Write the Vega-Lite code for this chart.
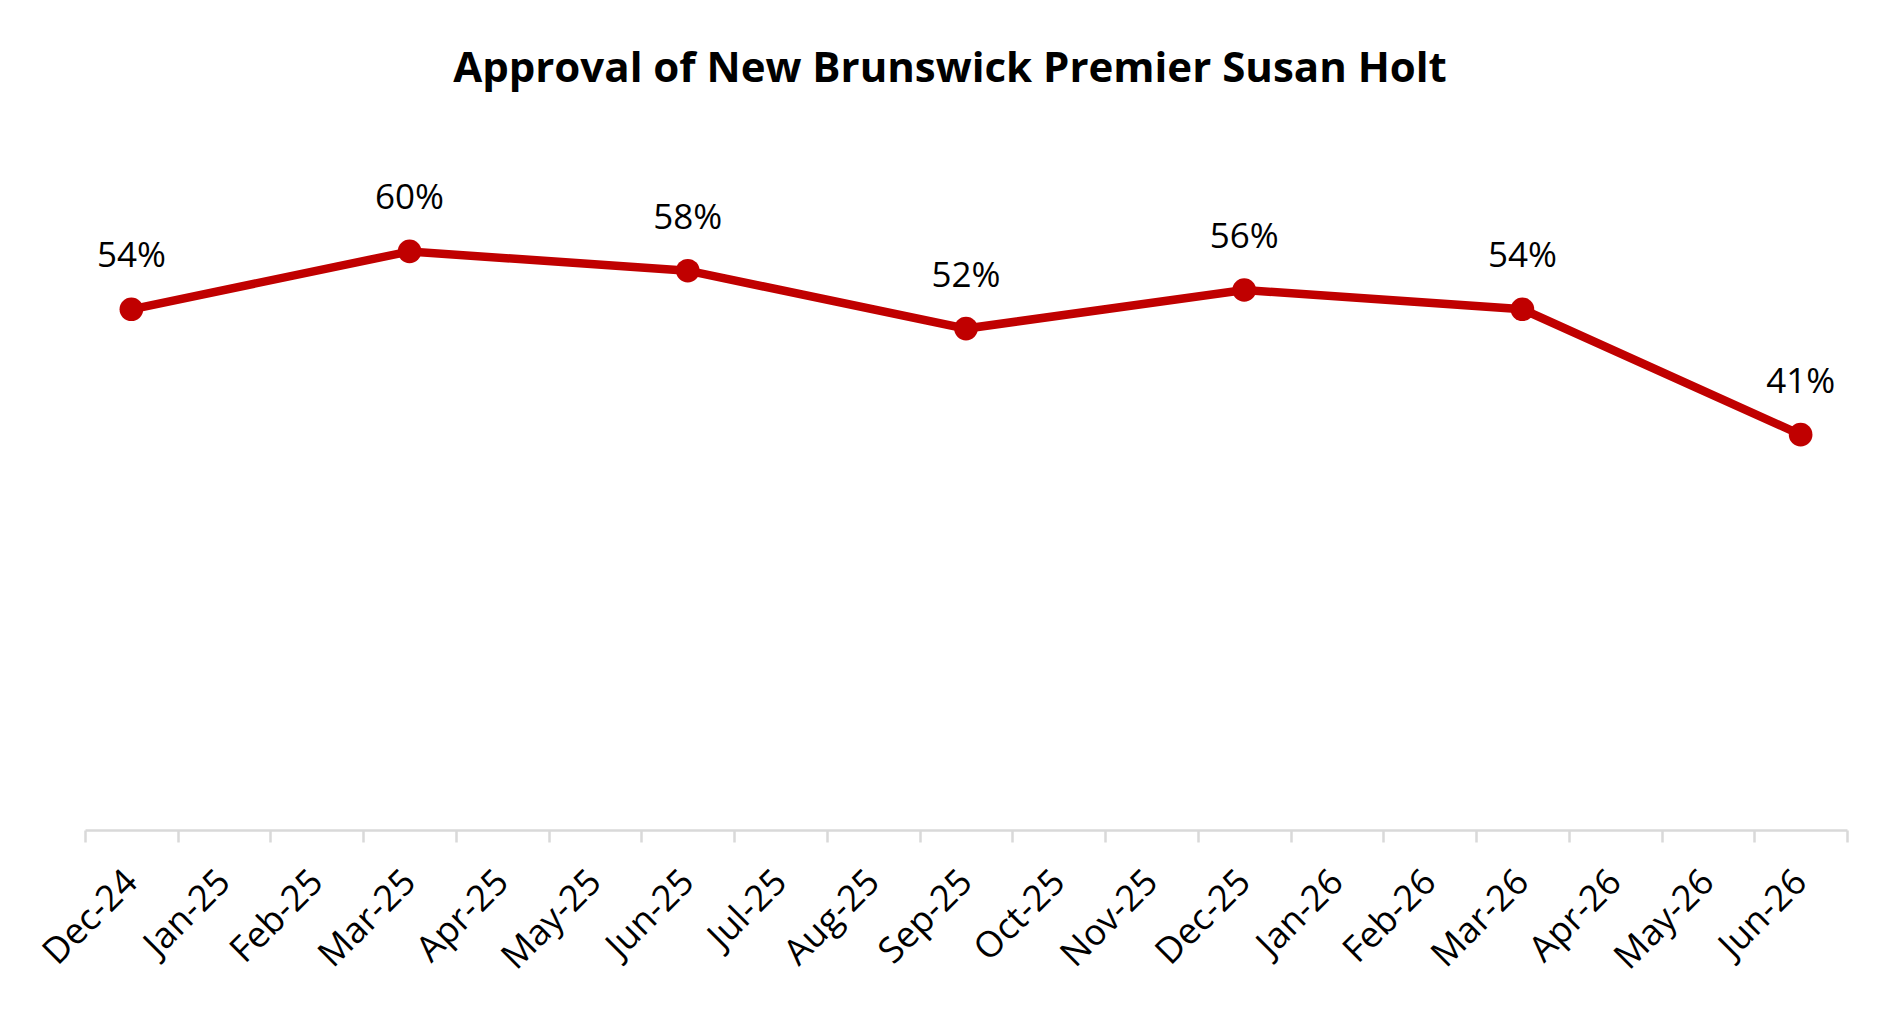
{
  "$schema": "https://vega.github.io/schema/vega-lite/v6.json",
  "autosize": {"type": "none"},
  "padding": {"left": 85, "top": 155, "right": 53, "bottom": 184},
  "width": 1762,
  "height": 675,
  "background": "white",
  "config": {
    "view": {"stroke": null},
    "font": "Open Sans"
  },
  "title": {
    "text": "Approval of New Brunswick Premier Susan Holt",
    "font": "Open Sans",
    "fontSize": 42,
    "fontWeight": "bold",
    "color": "black",
    "anchor": "middle",
    "baseline": "alphabetic",
    "offset": 31,
    "dx": -16
  },
  "data": {
    "values": [
      {"Month": "Dec-24", "Approval": 0.54},
      {"Month": "Mar-25", "Approval": 0.60},
      {"Month": "Jun-25", "Approval": 0.58},
      {"Month": "Sep-25", "Approval": 0.52},
      {"Month": "Dec-25", "Approval": 0.56},
      {"Month": "Mar-26", "Approval": 0.54},
      {"Month": "Jun-26", "Approval": 0.41}
    ]
  },
  "encoding": {
    "x": {
      "field": "Month",
      "type": "ordinal",
      "sort": null,
      "scale": {
        "type": "band",
        "paddingInner": 0,
        "paddingOuter": 0,
        "domain": ["Dec-24", "Jan-25", "Feb-25", "Mar-25", "Apr-25", "May-25", "Jun-25", "Jul-25", "Aug-25", "Sep-25", "Oct-25", "Nov-25", "Dec-25", "Jan-26", "Feb-26", "Mar-26", "Apr-26", "May-26", "Jun-26"]
      },
      "axis": {
        "title": null,
        "tickBand": "extent",
        "domainColor": "#D9D9D9",
        "domainWidth": 2.5,
        "tickColor": "#D9D9D9",
        "tickWidth": 2.5,
        "tickSize": 12,
        "labelAngle": -45,
        "labelAlign": "right",
        "labelBaseline": "middle",
        "labelPadding": 34,
        "labelFont": "Open Sans",
        "labelFontSize": 36,
        "labelColor": "black",
        "grid": false
      }
    },
    "y": {
      "field": "Approval",
      "type": "quantitative",
      "scale": {"domain": [0, 0.7]},
      "axis": null
    }
  },
  "layer": [
    {
      "mark": {"type": "line", "color": "#C00000", "strokeWidth": 8.5}
    },
    {
      "mark": {"type": "point", "filled": true, "color": "#C00000", "opacity": 1, "size": 560}
    },
    {
      "mark": {
        "type": "text",
        "font": "Open Sans",
        "fontSize": 35,
        "color": "black",
        "baseline": "alphabetic",
        "dy": -42
      },
      "encoding": {
        "text": {"field": "Approval", "type": "quantitative", "format": ".0%"}
      }
    }
  ]
}
